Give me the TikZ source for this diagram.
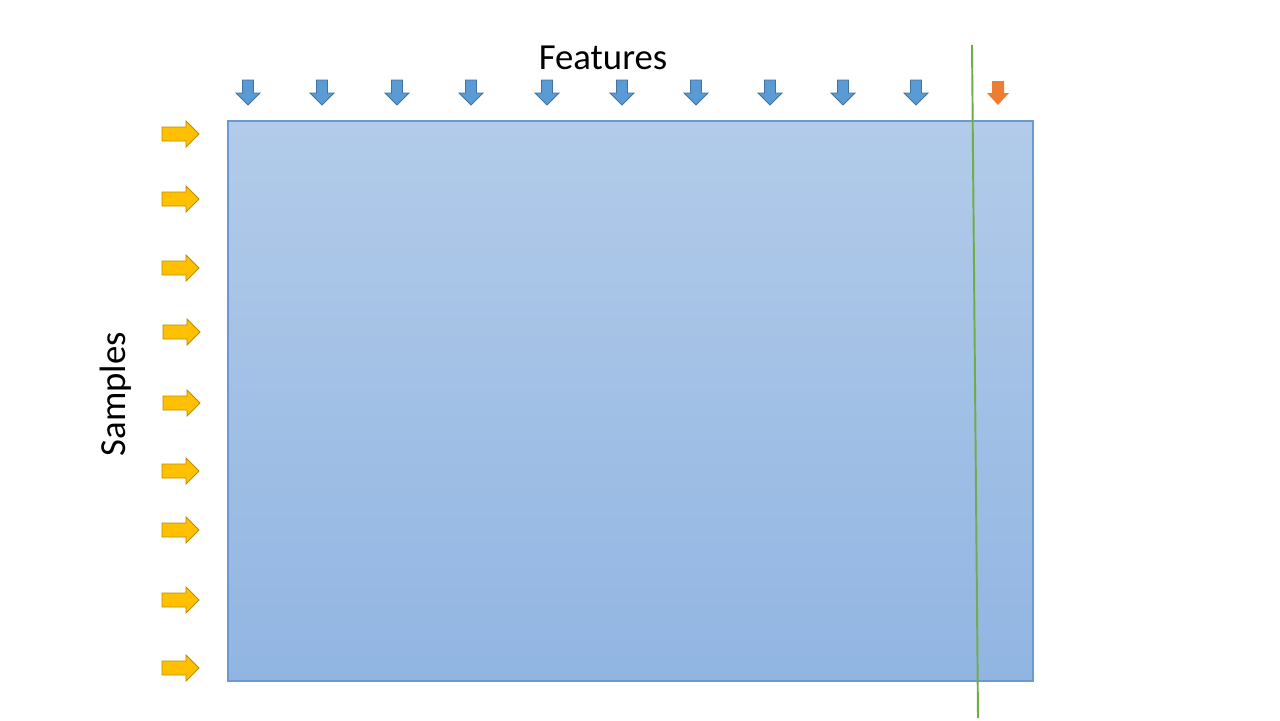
\documentclass[tikz,border=0pt]{standalone}
\usepackage{fontspec}
\setmainfont{Carlito}
\usetikzlibrary{shadows}

\definecolor{boxtop}{HTML}{B2CBE9}
\definecolor{boxbot}{HTML}{91B5E2}
\definecolor{boxline}{HTML}{6A9AD2}
\definecolor{featblue}{HTML}{5B9BD5}
\definecolor{featline}{HTML}{41719C}
\definecolor{targorange}{HTML}{ED7D31}
\definecolor{samplegold}{HTML}{FFC000}
\definecolor{sampleline}{HTML}{BC8C00}
\definecolor{splitgreen}{HTML}{70AD47}

\tikzset{
  featarrow/.style={fill=featblue,draw=featline,line width=0.5pt},
  targarrow/.style={fill=targorange,draw=none,
    drop shadow={opacity=0.35,shadow xshift=0.5pt,shadow yshift=-1pt}},
  samplearrow/.style={fill=samplegold,draw=sampleline,line width=0.5pt},
  label/.style={inner sep=0pt,font=\fontsize{20.9}{25}\selectfont},
  downarrow/.pic={
    \path[pic actions] (-5.5,-12.5) -- (5.5,-12.5) -- (5.5,0.5) -- (12,0.5)
      -- (0,12.5) -- (-12,0.5) -- (-5.5,0.5) -- cycle;},
  smalldown/.pic={
    \path[pic actions] (-6,-12) -- (6,-12) -- (6,0) -- (11,0)
      -- (0,12) -- (-11,0) -- (-6,0) -- cycle;},
  rightarrow/.pic={
    \path[pic actions] (-18.5,-7) -- (5.5,-7) -- (5.5,-13) -- (18.5,0)
      -- (5.5,13) -- (5.5,7) -- (-18.5,7) -- cycle;}
}

\begin{document}
\begin{tikzpicture}[x=0.02cm,y=-0.02cm]
\useasboundingbox (0,0) rectangle (1280,720);

% data table
\shade [top color=boxtop,bottom color=boxbot,draw=boxline,line width=0.6pt]
  (228,121) rectangle (1033,681);

% feature arrows
\foreach \x in {248,322,397,471,547,622,696,770,843,916}
  \pic [featarrow] at (\x,92.5) {downarrow};
\pic [targarrow] at (998,93) {smalldown};

% sample arrows
\foreach \x/\y in {180.5/134,180.5/199,180.5/268,181.5/332,181.5/403,180.5/471,180.5/530,180.5/600,180.5/668}
  \pic [samplearrow] at (\x,\y) {rightarrow};

% labels
\node [label] (features) at (603,58) {Features};
\node [label,rotate=90] (samples) at (116,394) {Samples};

% split line
\coordinate (cuttop) at (972,45);
\coordinate (cutbot) at (978,718);
\draw [splitgreen,line width=1.1pt] (cuttop) -- (cutbot);
\end{tikzpicture}
\end{document}
